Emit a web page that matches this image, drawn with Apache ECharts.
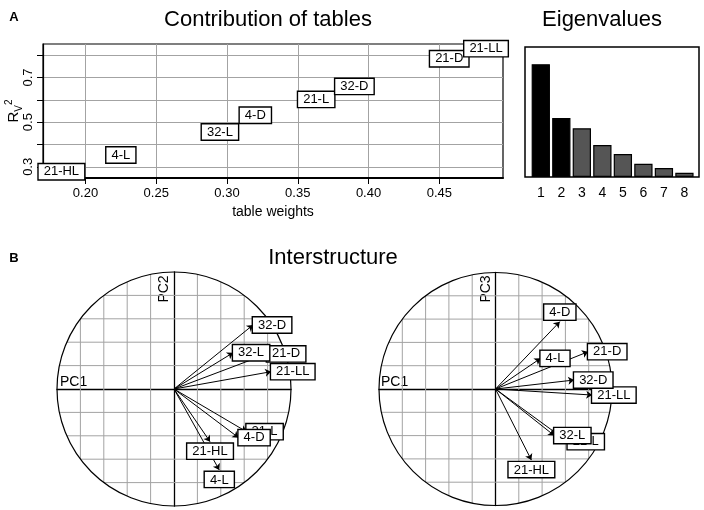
<!DOCTYPE html>
<html>
<head>
<meta charset="utf-8">
<script src="https://cdn.jsdelivr.net/npm/echarts@6/dist/echarts.min.js"></script>
<style>
  html, body { margin: 0; padding: 0; background: #fff; }
  #main { width: 704px; height: 510px; }
</style>
</head>
<body>
<div id="main"></div>
<script>
// tables, in drawing order (later labels sit on top)
const tables = ['21-D', '21-L', '21-LL', '21-HL', '32-D', '4-L', '4-D', '32-L'];
const tableWeights = [0.457, 0.363, 0.483, 0.183, 0.390, 0.225, 0.320, 0.295];
const rv2 = [0.784, 0.602, 0.829, 0.278, 0.660, 0.353, 0.531, 0.456];

const eigenRanks = [1, 2, 3, 4, 5, 6, 7, 8];
const eigenvalues = [2.985, 1.563, 1.290, 0.848, 0.609, 0.352, 0.238, 0.114];

// interstructure coordinates of each table
const pc1 = [0.795, 0.62, 0.83, 0.308, 0.675, 0.387, 0.552, 0.505];
const pc2 = [0.30, -0.365, 0.148, -0.45, 0.547, -0.692, -0.416, 0.31];
const pc3 = [0.32, -0.452, -0.052, -0.61, 0.077, 0.263, 0.578, -0.40];

const weightTicks = [0.20, 0.25, 0.30, 0.35, 0.40, 0.45];
const rvTicks = [0.3, 0.4, 0.5, 0.6, 0.7, 0.8];
const rvLabels = [0.3, 0.5, 0.7];
const circleGrid = [-0.8, -0.6, -0.4, -0.2, 0.2, 0.4, 0.6, 0.8];

const FONT = '"Liberation Sans", Arial, Helvetica, sans-serif';

const boxLabel = {
  show: true,
  formatter: '{b}',
  color: '#000',
  opacity: 1,
  fontSize: 13,
  fontFamily: FONT,
  backgroundColor: '#fff',
  borderColor: '#000',
  borderWidth: 1.4,
  padding: [1, 5, 0, 5],
  lineHeight: 14
};

// same rule as ade4: box goes on the side the arrow points to
const boxSide = (x, y) => {
  if (x > y && x > -y) return 'right';
  if (x > y && x <= -y) return 'bottom';
  if (x <= y && x <= -y) return 'left';
  return 'top';
};

const circleAxes = (i) => ({
  x: {
    type: 'value', gridIndex: i, min: -1, max: 1,
    axisLine: { show: true, onZero: true, lineStyle: { color: '#000', width: 1.3 } },
    axisTick: { show: false }, axisLabel: { show: false }, splitLine: { show: false }
  },
  y: {
    type: 'value', gridIndex: i, min: -1, max: 1,
    axisLine: { show: true, onZero: true, lineStyle: { color: '#000', width: 1.3 } },
    axisTick: { show: false }, axisLabel: { show: false }, splitLine: { show: false }
  }
});

const circleSeries = (axisIndex, ys) => [
  {
    type: 'custom', xAxisIndex: axisIndex, yAxisIndex: axisIndex, silent: true, z: 1,
    data: circleGrid.map(v => [v, v]),
    encode: { x: 0, y: 1 },
    renderItem: (params, api) => {
      const v = api.value(0);
      const h = Math.sqrt(1 - v * v);
      const a = api.coord([v, -h]), b = api.coord([v, h]);
      const c = api.coord([-h, v]), d = api.coord([h, v]);
      const st = { stroke: '#a3a3a3', lineWidth: 1 };
      return {
        type: 'group',
        children: [
          { type: 'line', shape: { x1: a[0], y1: a[1], x2: b[0], y2: b[1] }, style: st },
          { type: 'line', shape: { x1: c[0], y1: c[1], x2: d[0], y2: d[1] }, style: st }
        ]
      };
    }
  },
  {
    type: 'custom', xAxisIndex: axisIndex, yAxisIndex: axisIndex, silent: true, z: 2,
    data: [[0, 0]],
    encode: { x: 0, y: 1 },
    renderItem: (params, api) => {
      const o = api.coord([0, 0]);
      const r = api.size([1, 1])[0];
      return {
        type: 'circle',
        shape: { cx: o[0], cy: o[1], r: r },
        style: { fill: 'none', stroke: '#000', lineWidth: 1.2 }
      };
    }
  },
  {
    type: 'lines', coordinateSystem: 'cartesian2d',
    xAxisIndex: axisIndex, yAxisIndex: axisIndex, z: 3, silent: true,
    symbol: ['none', 'arrow'], symbolSize: 6,
    lineStyle: { color: '#000', width: 1, opacity: 1 },
    data: tables.map((t, i) => ({ coords: [[0, 0], [pc1[i], ys[i]]] }))
  },
  {
    type: 'scatter', xAxisIndex: axisIndex, yAxisIndex: axisIndex, z: 5, silent: true,
    symbolSize: 0, itemStyle: { color: '#000' },
    data: tables.map((t, i) => ({
      name: t,
      value: [pc1[i], ys[i]],
      label: { position: boxSide(pc1[i], ys[i]), distance: boxSide(pc1[i], ys[i]) === 'right' ? 0 : 2 }
    })),
    label: boxLabel
  }
];

const c2 = circleAxes(2), c3 = circleAxes(3);

const option = {
  animation: false,
  textStyle: { fontFamily: FONT },
  graphic: [
    { type: 'text', x: 268, y: 20, style: { text: 'Contribution of tables', font: '22px ' + FONT, fill: '#000', align: 'center', verticalAlign: 'middle' } },
    { type: 'text', x: 602, y: 20, style: { text: 'Eigenvalues', font: '22px ' + FONT, fill: '#000', align: 'center', verticalAlign: 'middle' } },
    { type: 'text', x: 333, y: 258, style: { text: 'Interstructure', font: '22px ' + FONT, fill: '#000', align: 'center', verticalAlign: 'middle' } },
    { type: 'text', x: 14, y: 17, style: { text: 'A', font: 'bold 13px ' + FONT, fill: '#000', align: 'center', verticalAlign: 'middle' } },
    { type: 'text', x: 14, y: 258, style: { text: 'B', font: 'bold 13px ' + FONT, fill: '#000', align: 'center', verticalAlign: 'middle' } },
    { type: 'text', x: 60, y: 382, style: { text: 'PC1', font: '14px ' + FONT, fill: '#000', align: 'left', verticalAlign: 'middle' } },
    { type: 'text', x: 164, y: 289, rotation: Math.PI / 2, style: { text: 'PC2', font: '14px ' + FONT, fill: '#000', align: 'center', verticalAlign: 'middle' } },
    { type: 'text', x: 381, y: 382, style: { text: 'PC1', font: '14px ' + FONT, fill: '#000', align: 'left', verticalAlign: 'middle' } },
    { type: 'text', x: 486, y: 289, rotation: Math.PI / 2, style: { text: 'PC3', font: '14px ' + FONT, fill: '#000', align: 'center', verticalAlign: 'middle' } }
  ],
  grid: [
    { left: 43, top: 44, width: 460, height: 134, show: true, borderColor: '#000', borderWidth: 1.2, outerBoundsMode: 'none', containLabel: false },
    { left: 525, top: 47, width: 174, height: 130, show: true, borderColor: '#000', borderWidth: 1.5, outerBoundsMode: 'none', containLabel: false },
    { left: 57, top: 272, width: 234, height: 234, outerBoundsMode: 'none', containLabel: false },
    { left: 379, top: 272.5, width: 233, height: 233, outerBoundsMode: 'none', containLabel: false }
  ],
  xAxis: [
    {
      type: 'value', gridIndex: 0, min: 0.17, max: 0.495, splitNumber: 6,
      name: 'table weights', nameLocation: 'middle', nameGap: 27, nameMoveOverlap: false,
      nameTextStyle: { fontSize: 14, color: '#000', fontFamily: FONT },
      axisLine: { show: true, onZero: false, lineStyle: { color: '#000', width: 2 } },
      axisTick: { show: true, customValues: weightTicks, length: 6, lineStyle: { color: '#000' } },
      axisLabel: { customValues: weightTicks, formatter: v => v.toFixed(2), color: '#000', fontSize: 13, margin: 9 },
      splitLine: { show: true, lineStyle: { color: '#a3a3a3', width: 1 } }
    },
    {
      type: 'value', gridIndex: 1, min: 0.23, max: 8.71,
      axisLine: { show: false }, axisTick: { show: false }, splitLine: { show: false },
      axisLabel: { customValues: eigenRanks, color: '#000', fontSize: 14, margin: 9 }
    },
    c2.x, c3.x
  ],
  yAxis: [
    {
      type: 'value', gridIndex: 0, min: 0.25, max: 0.85, interval: 0.05,
      name: 'R{v|V}{s|2}', nameLocation: 'middle', nameGap: 19, nameRotate: 90, nameMoveOverlap: false,
      nameTextStyle: {
        fontSize: 15, color: '#000', fontFamily: FONT, lineHeight: 20,
        rich: {
          v: { fontSize: 10, verticalAlign: 'bottom', lineHeight: 20, fontFamily: FONT, color: '#000' },
          s: { fontSize: 10, verticalAlign: 'top', lineHeight: 20, fontFamily: FONT, color: '#000' }
        }
      },
      axisLine: { show: true, onZero: false, lineStyle: { color: '#000', width: 1.2 } },
      axisTick: { show: true, customValues: rvTicks, length: 6, lineStyle: { color: '#000' } },
      axisLabel: { customValues: rvLabels, formatter: v => v.toFixed(1), rotate: 90, color: '#000', fontSize: 13, margin: 8 },
      splitLine: { show: true, lineStyle: { color: '#a3a3a3', width: 1 } }
    },
    {
      type: 'value', gridIndex: 1, min: 0, max: 3.44,
      axisLine: { show: false }, axisTick: { show: false }, axisLabel: { show: false }, splitLine: { show: false }
    },
    c2.y, c3.y
  ],
  series: [
    {
      type: 'scatter', xAxisIndex: 0, yAxisIndex: 0, z: 5, silent: true,
      symbolSize: 0, itemStyle: { color: '#000' },
      data: tables.map((t, i) => ({ name: t, value: [tableWeights[i], rv2[i]] })),
      label: Object.assign({}, boxLabel, { position: 'inside' })
    },
    {
      type: 'bar', xAxisIndex: 1, yAxisIndex: 1, silent: true,
      barWidth: 18.3,
      data: eigenRanks.map((r, i) => ({
        value: [r, eigenvalues[i]],
        itemStyle: { color: i < 2 ? '#000' : '#555', borderColor: '#000', borderWidth: 1.2 }
      }))
    },
    ...circleSeries(2, pc2),
    ...circleSeries(3, pc3)
  ]
};

const chart = echarts.init(document.getElementById('main'));
chart.setOption(option);
</script>
</body>
</html>
